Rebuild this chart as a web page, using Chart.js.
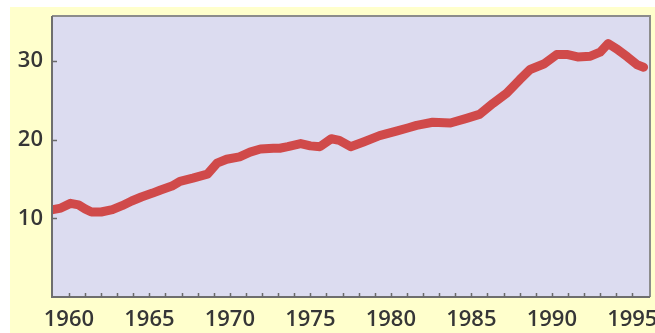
<!DOCTYPE html>
<html>
<head>
<meta charset="utf-8">
<script src="https://cdn.jsdelivr.net/npm/chart.js@4"></script>
<style>
  html, body { margin: 0; padding: 0; background: #ffffff; }
  #wrap { width: 655px; height: 333px; }
</style>
</head>
<body>
<div id="wrap"><canvas id="chart" width="655" height="333"></canvas></div>
<script>
// series, sampled along the curve
var years = [
    1959.0, 1959.5, 1960.1, 1960.6, 1961.0, 1961.4, 1962.0, 1962.7, 1963.3, 1963.9,
    1964.5, 1965.2, 1965.7, 1966.4, 1966.9, 1967.7, 1968.6, 1969.2, 1969.8, 1970.6,
    1971.25, 1971.9, 1972.7, 1973.1, 1973.6, 1974.4, 1975.0, 1975.6, 1976.3, 1976.8,
    1977.5, 1978.3, 1979.3, 1980.4, 1981.1, 1981.6, 1982.6, 1983.7, 1984.7, 1985.5,
    1986.35, 1987.2, 1988.0, 1988.65, 1989.5, 1990.3, 1991.0, 1991.6, 1992.4, 1993.0,
    1993.5, 1994.05, 1994.7, 1995.3, 1995.7
];
var values = [
    11.1, 11.3, 11.9, 11.7, 11.2, 10.8, 10.8, 11.1, 11.6, 12.2,
    12.7, 13.2, 13.6, 14.1, 14.7, 15.1, 15.6, 17.0, 17.5, 17.8,
    18.4, 18.8, 18.9, 18.9, 19.1, 19.5, 19.2, 19.1, 20.1, 19.9,
    19.1, 19.7, 20.5, 21.1, 21.5, 21.8, 22.2, 22.1, 22.7, 23.2,
    24.6, 25.9, 27.6, 28.9, 29.6, 30.8, 30.8, 30.5, 30.6, 31.1,
    32.2, 31.5, 30.5, 29.5, 29.2
];
var yTicks = [10, 20, 30];
var xLabels = [1960, 1965, 1970, 1975, 1980, 1985, 1990, 1995];

var points = years.map(function (y, i) { return { x: y, y: values[i] }; });

var labelFont = { family: 'Open Sans', size: 22, weight: '600' };

// page panel, plot fill, frame and inward ticks
var panelPlugin = {
    id: 'panel',
    beforeDraw: function (chart) {
        var ctx = chart.ctx, a = chart.chartArea;
        ctx.save();
        ctx.fillStyle = '#ffffff';
        ctx.fillRect(0, 0, chart.width, chart.height);
        ctx.fillStyle = '#ffffcc';
        ctx.fillRect(10, 7, chart.width - 10, chart.height - 7);
        ctx.fillStyle = '#dcdcf0';
        ctx.fillRect(a.left, a.top, a.right - a.left, a.bottom - a.top);
        ctx.restore();
    },
    afterDraw: function (chart) {
        var ctx = chart.ctx, a = chart.chartArea;
        var xs = chart.scales.x, ys = chart.scales.y;
        ctx.save();
        // light frame on top and right
        ctx.strokeStyle = '#8c8c8c';
        ctx.lineWidth = 2;
        ctx.beginPath();
        ctx.moveTo(a.left, a.top);
        ctx.lineTo(a.right, a.top);
        ctx.lineTo(a.right, a.bottom);
        ctx.stroke();
        // axes
        ctx.strokeStyle = '#6e6e6e';
        ctx.beginPath();
        ctx.moveTo(a.left, a.top);
        ctx.lineTo(a.left, a.bottom);
        ctx.lineTo(a.right, a.bottom);
        ctx.stroke();
        // yearly ticks
        ctx.lineWidth = 1.5;
        ctx.strokeStyle = '#6a6a6a';
        for (var yr = 1960; yr <= 1995; yr++) {
            var px = Math.round(xs.getPixelForValue(yr)) + 0.5;
            ctx.beginPath();
            ctx.moveTo(px, a.bottom);
            ctx.lineTo(px, a.bottom - 4);
            ctx.stroke();
        }
        yTicks.forEach(function (v) {
            var py = Math.round(ys.getPixelForValue(v)) + 0.5;
            ctx.beginPath();
            ctx.moveTo(a.left, py);
            ctx.lineTo(a.left + 5, py);
            ctx.stroke();
        });
        ctx.restore();
    }
};

new Chart(document.getElementById('chart'), {
    type: 'line',
    data: {
        datasets: [{
            data: points,
            borderColor: '#d04a4a',
            borderWidth: 9,
            borderJoinStyle: 'round',
            borderCapStyle: 'round',
            pointRadius: 0,
            tension: 0,
            fill: false
        }]
    },
    options: {
        responsive: false,
        animation: false,
        devicePixelRatio: 1,
        layout: { padding: { top: 16, right: 5, left: 0, bottom: 0 } },
        plugins: {
            legend: { display: false },
            tooltip: { enabled: false }
        },
        scales: {
            x: {
                type: 'linear',
                min: 1958.95,
                max: 1996.1,
                grid: { display: false, drawTicks: false },
                border: { display: false },
                afterBuildTicks: function (scale) {
                    scale.ticks = xLabels.map(function (v) { return { value: v }; });
                },
                afterFit: function (scale) {
                    scale.height = 36;
                    scale.paddingLeft = 0;
                    scale.paddingRight = 0;
                },
                ticks: {
                    autoSkip: false,
                    maxRotation: 0,
                    padding: 10,
                    color: '#363636',
                    font: labelFont,
                    callback: function (v) { return String(v); }
                }
            },
            y: {
                min: 0,
                max: 35.7,
                grid: { display: false, drawTicks: false },
                border: { display: false },
                afterBuildTicks: function (scale) {
                    scale.ticks = yTicks.map(function (v) { return { value: v }; });
                },
                afterFit: function (scale) {
                    scale.width = 52;
                    scale.paddingTop = 0;
                    scale.paddingBottom = 0;
                },
                ticks: {
                    padding: 9,
                    color: '#363636',
                    font: labelFont,
                    callback: function (v) { return String(v); }
                }
            }
        }
    },
    plugins: [panelPlugin]
});
</script>
</body>
</html>
